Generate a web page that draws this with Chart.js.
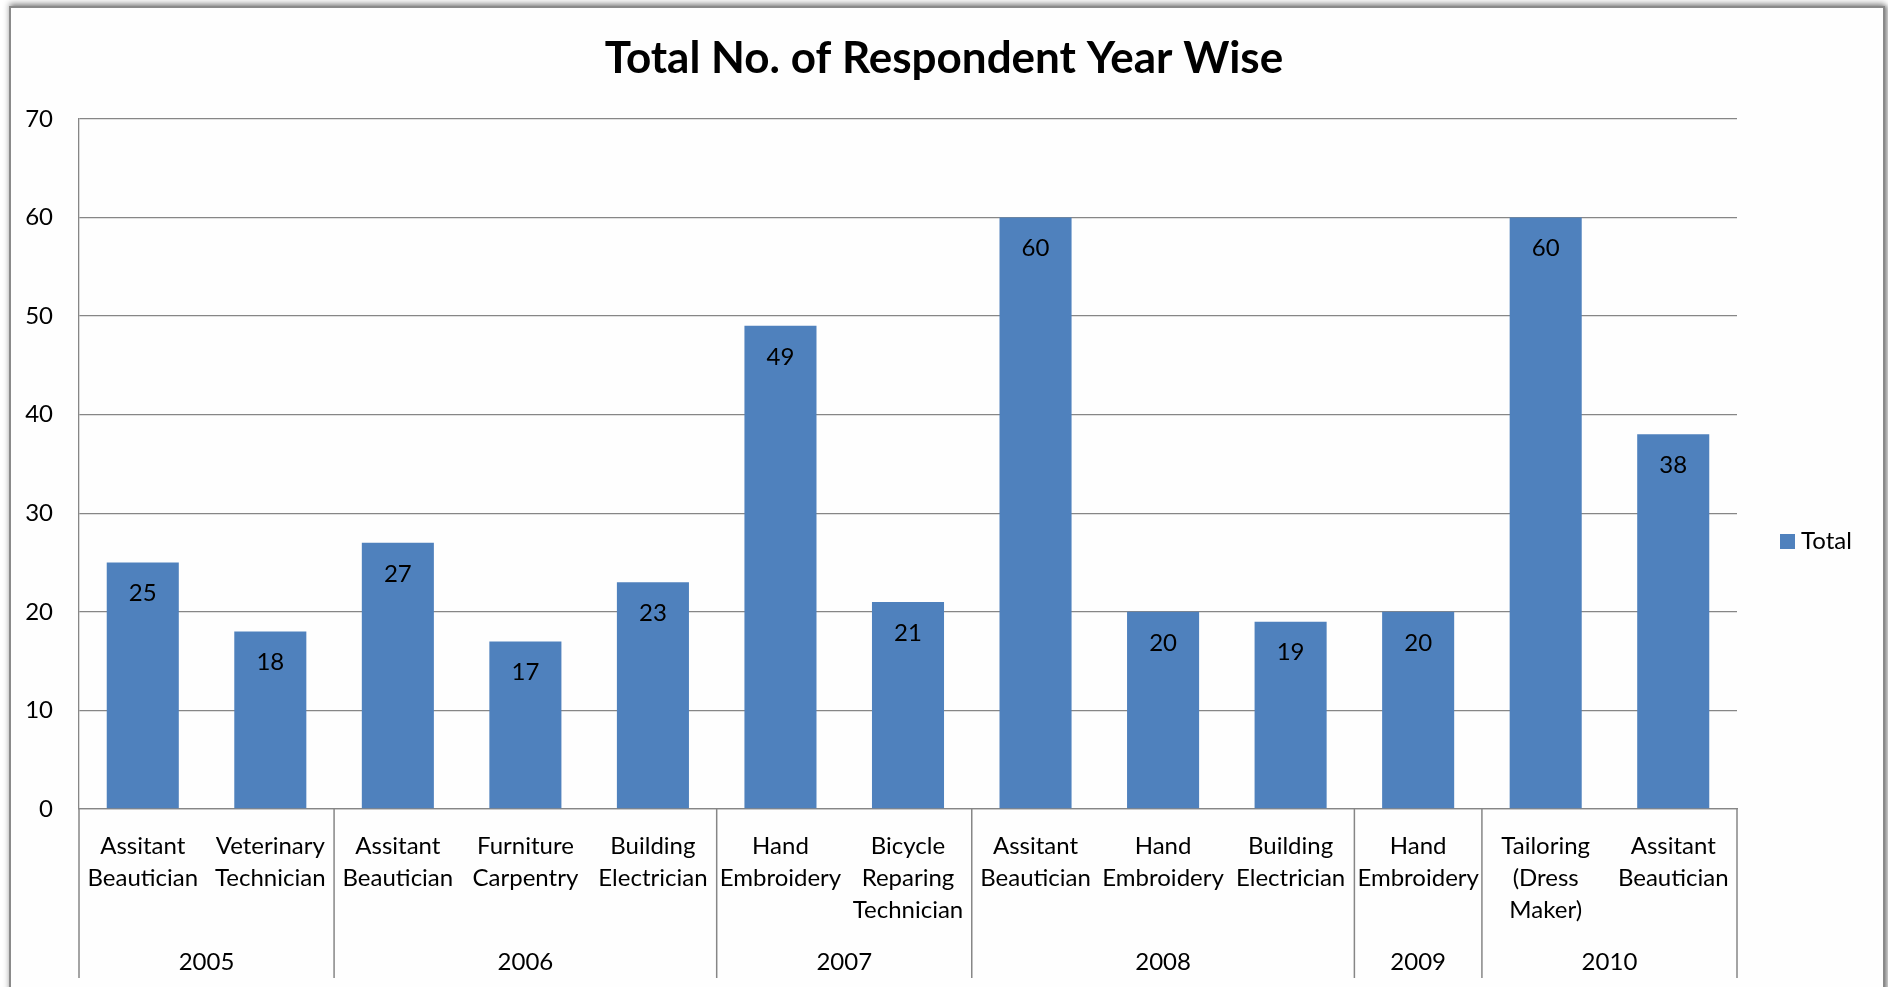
<!DOCTYPE html>
<html><head><meta charset="utf-8">
<script src="https://cdn.jsdelivr.net/npm/chart.js@4/dist/chart.umd.min.js"></script>
<style>
html,body{margin:0;padding:0;background:#fff;width:1888px;height:987px;overflow:hidden;}
#frame{position:absolute;left:9px;top:6px;width:1872px;height:1100px;border:2px solid #8a8a8a;background:#fefefe;box-shadow:0 -3px 6px rgba(0,0,0,0.35), 3px 0 4px rgba(0,0,0,0.3);}
#wrap{position:absolute;left:0;top:0;width:1888px;height:987px;}
</style></head><body>
<div id="frame"></div>
<div id="wrap"><canvas id="c" width="1888" height="987"></canvas></div>
<script>
const categories = [
  ["Assitant","Beautician"],
  ["Veterinary","Technician"],
  ["Assitant","Beautician"],
  ["Furniture","Carpentry"],
  ["Building","Electrician"],
  ["Hand","Embroidery"],
  ["Bicycle","Reparing","Technician"],
  ["Assitant","Beautician"],
  ["Hand","Embroidery"],
  ["Building","Electrician"],
  ["Hand","Embroidery"],
  ["Tailoring","(Dress","Maker)"],
  ["Assitant","Beautician"]
];
const values = [25, 18, 27, 17, 23, 49, 21, 60, 20, 19, 20, 60, 38];
const years = ["2005", "2006", "2007", "2008", "2009", "2010"];
const yearCounts = [2, 3, 2, 3, 1, 2];
const seriesName = "Total";
const titleText = "Total No. of Respondent Year Wise";

const FONT = "Lato";
const GRID = "#868686";
const BAR = "#4F81BD";
const X_AXIS_H = 169;

const valueLabels = {
  id: 'valueLabels',
  afterDatasetsDraw(chart) {
    const ctx = chart.ctx;
    const meta = chart.getDatasetMeta(0);
    ctx.save();
    ctx.font = `24px ${FONT}`;
    ctx.fillStyle = '#000';
    ctx.textAlign = 'center';
    ctx.textBaseline = 'middle';
    meta.data.forEach((bar, i) => {
      ctx.fillText(String(chart.data.datasets[0].data[i]), bar.x, bar.y + 31);
    });
    ctx.restore();
  }
};

const yearGroups = {
  id: 'yearGroups',
  afterDraw(chart) {
    const ctx = chart.ctx;
    const area = chart.chartArea;
    const n = chart.data.labels.length;
    const w = (area.right - area.left) / n;
    const top = area.bottom;
    const bottom = area.bottom + X_AXIS_H;
    ctx.save();
    ctx.strokeStyle = GRID;
    ctx.lineWidth = 1.5;
    let k = 0;
    const drawSep = (x) => {
      ctx.beginPath();
      ctx.moveTo(x, top);
      ctx.lineTo(x, bottom);
      ctx.stroke();
    };
    drawSep(area.left);
    ctx.font = `24px ${FONT}`;
    ctx.fillStyle = '#000';
    ctx.textAlign = 'center';
    ctx.textBaseline = 'middle';
    years.forEach((y, gi) => {
      const start = k;
      k += yearCounts[gi];
      const x0 = area.left + start * w;
      const x1 = area.left + k * w;
      drawSep(x1);
      ctx.fillText(y, (x0 + x1) / 2, bottom - 16);
    });
    ctx.restore();
  }
};

const sideLegend = {
  id: 'sideLegend',
  afterDraw(chart) {
    const ctx = chart.ctx;
    const ds = chart.data.datasets[0];
    ctx.save();
    const cx = chart.chartArea.right + 43;
    const cy = 541;
    ctx.fillStyle = ds.backgroundColor;
    ctx.fillRect(cx, cy - 7, 15, 15);
    ctx.font = `24px ${FONT}`;
    ctx.fillStyle = '#000';
    ctx.textAlign = 'left';
    ctx.textBaseline = 'middle';
    ctx.fillText(ds.label, cx + 21, cy);
    ctx.restore();
  }
};

new Chart(document.getElementById('c'), {
  type: 'bar',
  data: {
    labels: categories,
    datasets: [{
      label: seriesName,
      data: values,
      backgroundColor: BAR,
      barPercentage: 0.565,
      categoryPercentage: 1.0
    }]
  },
  options: {
    responsive: false,
    devicePixelRatio: 1,
    animation: false,
    layout: { padding: { left: 19, right: 19, top: 0, bottom: 9 } },
    plugins: {
      legend: { display: false },
      tooltip: { enabled: false },
      title: {
        display: true,
        text: titleText,
        color: '#000',
        font: { family: FONT, size: 44, weight: 'bold' },
        padding: { top: 32, bottom: 34 }
      }
    },
    scales: {
      y: {
        min: 0, max: 70,
        ticks: { stepSize: 10, color: '#000', padding: 26, font: { family: FONT, size: 24 } },
        grid: { color: GRID, lineWidth: 1.3, drawTicks: false },
        border: { color: GRID, width: 1.3 },
        afterFit(s) { s.width = 60; }
      },
      yRight: {
        position: 'right',
        min: 0, max: 70,
        ticks: { display: false },
        grid: { display: false, drawTicks: false },
        border: { display: false },
        afterFit(s) { s.width = 132; }
      },
      x: {
        ticks: { color: '#000', padding: 21, maxRotation: 0, minRotation: 0, autoSkip: false,
                 font: { family: FONT, size: 24, lineHeight: 1.33 } },
        grid: { display: false, drawTicks: false },
        border: { display: true, color: GRID, width: 1.3 },
        afterFit(s) { s.height = X_AXIS_H; }
      }
    }
  },
  plugins: [valueLabels, yearGroups, sideLegend]
});
</script>
</body></html>
